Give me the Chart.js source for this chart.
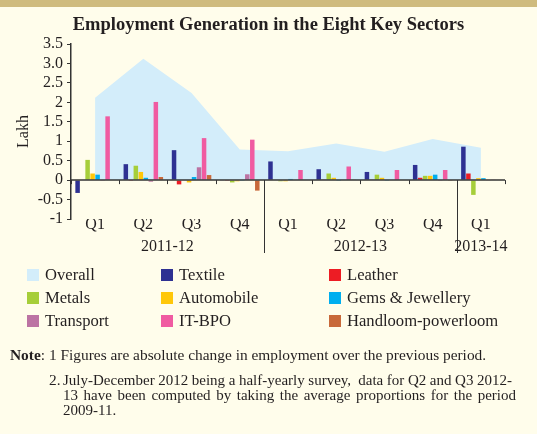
<!DOCTYPE html>
<html>
<head>
<meta charset="utf-8">
<script src="https://cdn.jsdelivr.net/npm/chart.js@4/dist/chart.umd.min.js"></script>
<style>
  html, body { margin: 0; padding: 0; }
  body { width: 537px; height: 434px; background: #fffdeb; position: relative; overflow: hidden;
         font-family: "Liberation Serif", "Times New Roman", serif; color: #231f20; }
  #band { position: absolute; left: 0; top: 0; width: 537px; height: 7px; background: #cfbb7e; }
  #wrap { position: absolute; left: 0; top: 0; width: 537px; height: 434px; }
  #legend { position: absolute; left: 27px; top: 263px; display: grid;
            grid-template-columns: 134px 168px auto; grid-auto-rows: 23px; font-size: 16.6px; }
  #legend div { display: flex; align-items: center; white-space: nowrap; }
  #legend span.sw { width: 12px; height: 12px; margin-right: 6px; display: inline-block; }
  .note { position: absolute; font-size: 15.4px; line-height: 16px; white-space: nowrap; }
  .just { text-align: justify; text-align-last: justify; white-space: normal;
          font-size: 15px; word-spacing: -1px; }
</style>
</head>
<body>
<div id="band"></div>
<div id="wrap"><canvas id="chart"></canvas></div>
<div id="legend"></div>
<div class="note" style="left:10px; top:347px;"><b>Note</b>: 1 Figures are absolute change in employment over the previous period.</div>
<div class="note" style="left:49px; top:372px;">2.</div>
<div class="note just" style="left:63px; top:372px; width:449px;">July-December 2012 being a half-yearly survey,&nbsp; data for Q2 and Q3 2012-</div>
<div class="note just" style="left:63px; top:387px; width:453px;">13 have been computed by taking the average proportions for the period</div>
<div class="note" style="left:63px; top:402px; font-size:15px;">2009-11.</div>

<script>
// categories
const quarters = ['Q1', 'Q2', 'Q3', 'Q4', 'Q1', 'Q2', 'Q3', 'Q4', 'Q1'];
const yearLabels = ['2011-12', '2012-13', '2013-14'];
const yearSpans = [4, 4, 1];
const yTickLabels = ['-1', '-0.5', '0', '0.5', '1', '1.5', '2', '2.5', '3.0', '3.5'];

// series values (lakh)
const overall    = [2.12, 3.12, 2.24, 0.79, 0.74, 0.94, 0.73, 1.06, 0.83];
const textile    = [-0.33, 0.41, 0.77, -0.01, 0.48, 0.28, 0.21, 0.39, 0.86];
const leather    = [0, -0.02, -0.11, -0.02, 0, 0.01, 0.01, 0.06, 0.17];
const metals     = [0.52, 0.37, 0, -0.06, -0.03, 0.17, 0.14, 0.11, -0.38];
const automobile = [0.17, 0.21, -0.06, -0.03, -0.03, 0.06, 0.06, 0.11, 0.05];
const gems       = [0.14, 0.06, 0.08, -0.02, 0.03, -0.02, -0.02, 0.14, 0.05];
const transport  = [-0.02, -0.04, 0.33, 0.15, 0, 0, 0, -0.02, -0.01];
const itbpo      = [1.64, 2.01, 1.08, 1.04, 0.26, 0.35, 0.26, 0.26, 0.01];
const handloom   = [0, 0.08, 0.13, -0.27, 0, 0.01, 0, -0.02, 0];

const barNames = ['Textile', 'Leather', 'Metals', 'Automobile', 'Gems & Jewellery',
                  'Transport', 'IT-BPO', 'Handloom-powerloom'];
const barSeries = [textile, leather, metals, automobile, gems, transport, itbpo, handloom];
const barColors = ['#2e3192', '#ed1c24', '#a6ce39', '#ffc709', '#00aeef', '#bc73a3', '#f05ba1', '#c8693a'];
const overallColor = '#d3edfa';

const datasets = [{
    type: 'line',
    label: 'Overall',
    data: overall,
    backgroundColor: overallColor,
    borderWidth: 0,
    pointRadius: 0,
    fill: 'origin',
    tension: 0,
    order: 2,
}];
barNames.forEach((name, i) => {
    datasets.push({
        type: 'bar',
        label: name,
        data: barSeries[i],
        backgroundColor: barColors[i],
        borderWidth: 0,
        categoryPercentage: 0.83,
        barPercentage: 0.9,
        order: 1,
    });
});

// legend, 3 columns like the source
const legendEl = document.getElementById('legend');
datasets.forEach(ds => {
    const item = document.createElement('div');
    item.innerHTML = '<span class="sw" style="background:' + ds.backgroundColor + '"></span>' +
        ds.label.replace('&', '&amp;');
    legendEl.appendChild(item);
});

// zero line, group ticks, year separators and year labels
const groupDecor = {
    id: 'groupDecor',
    afterDatasetsDraw(chart) {
        const { ctx, chartArea, scales: { x, y } } = chart;
        const y0 = y.getPixelForValue(0);
        const half = (x.getPixelForValue(1) - x.getPixelForValue(0)) / 2;
        ctx.save();
        ctx.strokeStyle = '#333';
        ctx.lineWidth = 1.5;
        ctx.beginPath();
        ctx.moveTo(chartArea.left, y0);
        ctx.lineTo(chartArea.right, y0);
        ctx.stroke();

        ctx.lineWidth = 1;
        for (let i = 0; i <= quarters.length; i++) {
            const bx = Math.round(x.getPixelForValue(0) + (2 * i - 1) * half) + 0.5;
            ctx.beginPath();
            ctx.moveTo(bx, y0);
            ctx.lineTo(bx, y0 + 4);
            ctx.stroke();
        }

        ctx.fillStyle = '#231f20';
        ctx.font = '16px "Liberation Serif"';
        ctx.textAlign = 'center';
        ctx.textBaseline = 'middle';
        let start = 0;
        yearSpans.forEach((n, k) => {
            const left = x.getPixelForValue(start) - half;
            const right = x.getPixelForValue(start + n - 1) + half;
            ctx.fillText(yearLabels[k], (left + right) / 2, chartArea.bottom + 28);
            if (k < yearSpans.length - 1) {
                const sx = Math.round(right) + 0.5;
                ctx.beginPath();
                ctx.moveTo(sx, y0);
                ctx.lineTo(sx, chartArea.bottom + 34);
                ctx.stroke();
            }
            start += n;
        });
        ctx.restore();
    }
};

new Chart(document.getElementById('chart'), {
    type: 'bar',
    data: { labels: quarters, datasets: datasets },
    plugins: [groupDecor],
    options: {
        responsive: true,
        maintainAspectRatio: false,
        animation: false,
        layout: { padding: { top: 0, right: 0, left: 0, bottom: 175 } },
        plugins: {
            legend: { display: false },
            tooltip: { enabled: false },
            title: {
                display: true,
                text: 'Employment Generation in the Eight Key Sectors',
                color: '#231f20',
                font: { family: 'Liberation Serif', size: 18.5, weight: 'bold' },
                padding: { top: 14, bottom: 7.8 },
            },
        },
        scales: {
            x: {
                grid: { display: false, drawTicks: false },
                border: { display: false },
                ticks: {
                    color: '#231f20',
                    padding: -4,
                    font: { family: 'Liberation Serif', size: 16 },
                },
                afterFit: s => { s.height = 40; },
            },
            y: {
                min: -1,
                max: 3.5,
                ticks: {
                    stepSize: 0.5,
                    autoSkip: false,
                    color: '#231f20',
                    padding: 4,
                    font: { family: 'Liberation Serif', size: 16 },
                    callback: (v, i) => yTickLabels[i],
                },
                grid: { drawOnChartArea: false, tickLength: 4, color: '#333' },
                border: { display: true, color: '#333', width: 1.5 },
                title: {
                    display: true,
                    text: 'Lakh',
                    color: '#231f20',
                    font: { family: 'Liberation Serif', size: 16 },
                    padding: { top: 14, bottom: 0 },
                },
                afterFit: s => { s.width = 71; },
            },
            // empty right-hand margin so the title stays centred on the page
            yRight: {
                position: 'right',
                grid: { display: false },
                border: { display: false },
                ticks: { display: false },
                afterFit: s => { s.width = 32; },
            },
        },
    },
});
</script>
</body>
</html>
